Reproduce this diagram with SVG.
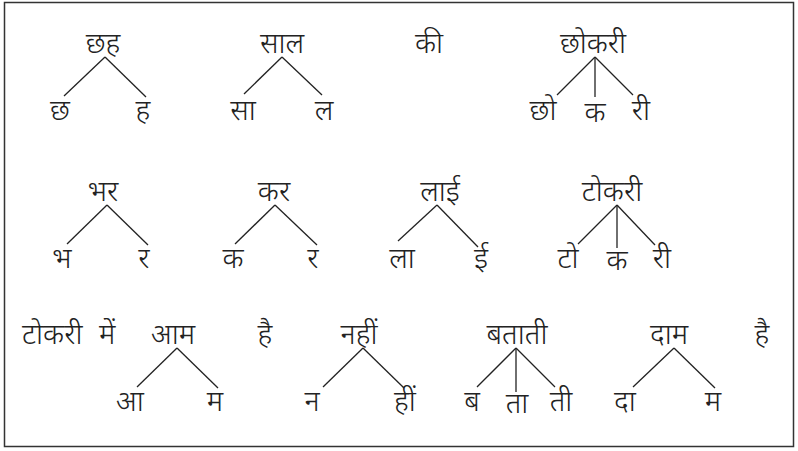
<svg xmlns="http://www.w3.org/2000/svg" width="798" height="451" viewBox="0 0 798 451">
<style>
text{font-family:"Noto Sans","Lohit Devanagari","FreeSans",sans-serif;font-size:29px;font-weight:300;fill:#222;text-anchor:middle}
.c line{stroke:#222;stroke-width:1.3}
</style>
<rect x="0" y="0" width="798" height="451" fill="#fff"/>
<rect x="4.5" y="2.5" width="789" height="444" fill="none" stroke="#333" stroke-width="1.5"/>
<g class="c" id="connectors">
<line x1="105" y1="57" x2="64" y2="96"/><line x1="105" y1="57" x2="146" y2="97"/>
<line x1="282" y1="57" x2="244" y2="94"/><line x1="282" y1="57" x2="322" y2="95"/>
<line x1="595" y1="57" x2="557" y2="95"/><line x1="595" y1="57" x2="595" y2="97"/><line x1="595" y1="57" x2="633" y2="95"/>
<line x1="107" y1="205" x2="67" y2="244"/><line x1="107" y1="205" x2="148" y2="245"/>
<line x1="275" y1="205" x2="235" y2="244"/><line x1="275" y1="205" x2="317" y2="245"/>
<line x1="437" y1="205" x2="398" y2="241"/><line x1="437" y1="205" x2="478" y2="247"/>
<line x1="617" y1="205" x2="578" y2="244"/><line x1="617" y1="205" x2="617" y2="248"/><line x1="617" y1="205" x2="655" y2="245"/>
<line x1="177" y1="348" x2="137" y2="387"/><line x1="177" y1="348" x2="218" y2="388"/>
<line x1="363" y1="348" x2="323" y2="387"/><line x1="363" y1="348" x2="404" y2="388"/>
<line x1="516" y1="348" x2="477" y2="387"/><line x1="516" y1="348" x2="516" y2="392"/><line x1="516" y1="348" x2="555" y2="387"/>
<line x1="674" y1="348" x2="633" y2="387"/><line x1="674" y1="348" x2="715" y2="388"/>
</g>
<g id="n-chhah"><text x="103" y="53">छह</text><text x="60" y="120">छ</text><text x="143" y="120">ह</text></g>
<g id="n-saal"><text x="282" y="53">साल</text><text x="243" y="120">सा</text><text x="324" y="120">ल</text></g>
<g id="n-ki"><text x="429" y="53">की</text></g>
<g id="n-chhokri"><text x="593" y="53">छोकरी</text><text x="543" y="120">छो</text><text x="595" y="122">क</text><text x="641" y="120">री</text></g>
<g id="n-bhar"><text x="103" y="201">भर</text><text x="62" y="268">भ</text><text x="144" y="268">र</text></g>
<g id="n-kar"><text x="274" y="201">कर</text><text x="233" y="268">क</text><text x="313" y="268">र</text></g>
<g id="n-laai"><text x="440" y="201">लाई</text><text x="402" y="268">ला</text><text x="481" y="268">ई</text></g>
<g id="n-tokri"><text x="612" y="201">टोकरी</text><text x="568" y="268">टो</text><text x="617" y="270">क</text><text x="662" y="268">री</text></g>
<g id="n-tokri-mein"><text x="22" y="344" style="text-anchor:start;word-spacing:9px">टोकरी में</text></g>
<g id="n-aam"><text x="173" y="344">आम</text><text x="130" y="411">आ</text><text x="215" y="411">म</text></g>
<g id="n-hai1"><text x="265" y="344">है</text></g>
<g id="n-nahin"><text x="359" y="344">नहीं</text><text x="312" y="411">न</text><text x="405" y="411">हीं</text></g>
<g id="n-batati"><text x="517" y="344">बताती</text><text x="472" y="411">ब</text><text x="517" y="413">ता</text><text x="561" y="411">ती</text></g>
<g id="n-daam"><text x="669" y="344">दाम</text><text x="625" y="411">दा</text><text x="713" y="411">म</text></g>
<g id="n-hai2"><text x="762" y="344">है</text></g>
</svg>
